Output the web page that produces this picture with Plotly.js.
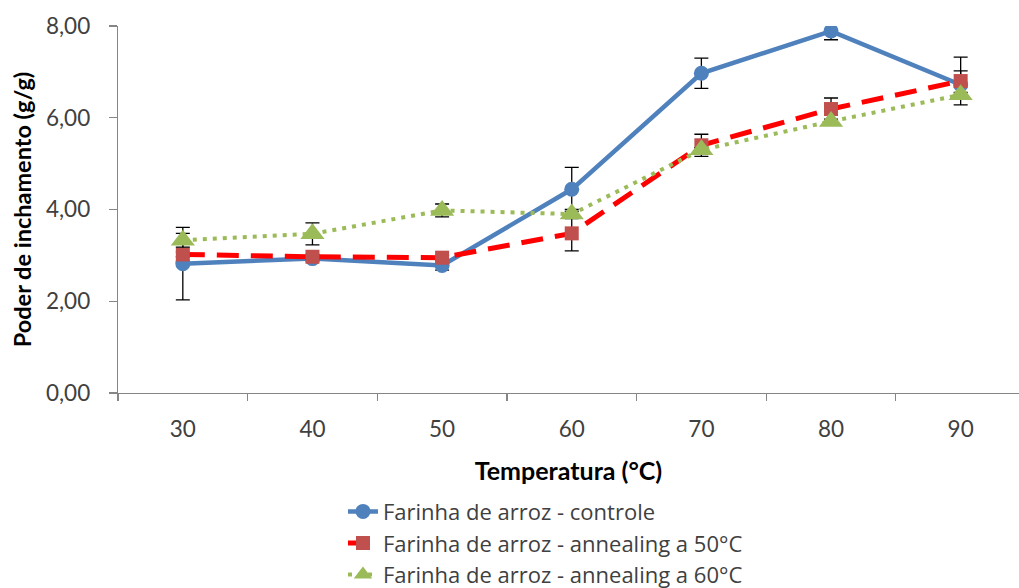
<!DOCTYPE html>
<html>
<head>
<meta charset="utf-8">
<script src="https://cdn.plot.ly/plotly-3.0.1.min.js"></script>
<style>html,body{margin:0;padding:0;background:#fff;}#chart{width:1019px;height:588px;}</style>
</head>
<body>
<div id="chart"></div>
<script>
const temperatures = ['30', '40', '50', '60', '70', '80', '90'];

const controleName = 'Farinha de arroz - controle';
const controleValues = [2.82, 2.93, 2.78, 4.44, 6.97, 7.89, 6.72];
const controleErrors = [0.79, 0.05, 0.10, 0.48, 0.33, 0.19, 0.30];

const ann50Name = 'Farinha de arroz - annealing a 50°C';
const ann50Values = [3.02, 2.97, 2.95, 3.48, 5.40, 6.19, 6.80];
const ann50Errors = [0.05, 0.05, 0.05, 0.38, 0.24, 0.24, 0.52];

const ann60Name = 'Farinha de arroz - annealing a 60°C';
const ann60Values = [3.33, 3.47, 3.98, 3.90, 5.30, 5.92, 6.50];
const ann60Errors = [0.15, 0.24, 0.14, 0.10, 0.05, 0.05, 0.05];

const FONT = 'Lato, "Open Sans", sans-serif';
const LEGFONT = '"Open Sans", Lato, sans-serif';
const errStyle = (arr) => ({type: 'data', array: arr, visible: true, color: '#000000', thickness: 1.3, width: 7});

const traces = [
  {
    x: temperatures, y: controleValues, name: controleName, type: 'scatter', mode: 'lines+markers',
    line: {color: '#4F81BD', width: 4.5},
    marker: {symbol: 'circle', size: 15, color: '#4F81BD'},
    error_y: errStyle(controleErrors)
  },
  {
    x: temperatures, y: ann50Values, name: ann50Name, type: 'scatter', mode: 'lines+markers',
    line: {color: '#FF0000', width: 5, dash: '22px,12px'},
    marker: {symbol: 'square', size: 14, color: '#C0504D'},
    error_y: errStyle(ann50Errors)
  },
  {
    x: temperatures, y: ann60Values, name: ann60Name, type: 'scatter', mode: 'lines+markers',
    line: {color: '#9BBB59', width: 4, dash: '4px,6px'},
    marker: {symbol: 'triangle-up', size: 21, color: '#9BBB59'},
    error_y: errStyle(ann60Errors)
  }
];

const layout = {
  width: 1019, height: 588,
  margin: {l: 118, r: 0, t: 26, b: 195, autoexpand: false},
  paper_bgcolor: '#ffffff', plot_bgcolor: '#ffffff',
  font: {family: FONT, color: '#404040', size: 22},
  showlegend: true,
  legend: {
    x: 0.2497, xanchor: 'left', y: -0.266, yanchor: 'top',
    font: {family: LEGFONT, size: 22, color: '#404040'},
    bgcolor: 'rgba(0,0,0,0)', traceorder: 'normal'
  },
  xaxis: {
    type: 'category', range: [-0.5, 6.45],
    showline: true, linecolor: '#868686', linewidth: 1.3,
    ticks: 'outside', tickson: 'boundaries', ticklen: 7, tickcolor: '#868686', tickwidth: 1.3,
    showgrid: false, zeroline: false,
    tickfont: {family: FONT, size: 22.5, color: '#404040'},
    ticklabelstandoff: 16,
    title: {text: 'Temperatura (°C)', font: {family: FONT, size: 25, color: '#000000', weight: 'bold'}, standoff: 21}
  },
  yaxis: {
    range: [0, 8], tickvals: [0, 2, 4, 6, 8], tickformat: '.2f',
    showline: true, linecolor: '#868686', linewidth: 1.3,
    ticks: 'outside', ticklen: 8, tickcolor: '#868686', tickwidth: 1.3,
    showgrid: false, zeroline: false,
    tickfont: {family: FONT, size: 22.5, color: '#404040'},
    ticklabelstandoff: 14,
    title: {text: 'Poder de inchamento (g/g)', font: {family: FONT, size: 23.5, color: '#000000', weight: 'bold'}, standoff: 7}
  },
  separators: ',.'
};

Plotly.newPlot('chart', traces, layout, {displayModeBar: false, staticPlot: true});
</script>
</body>
</html>
